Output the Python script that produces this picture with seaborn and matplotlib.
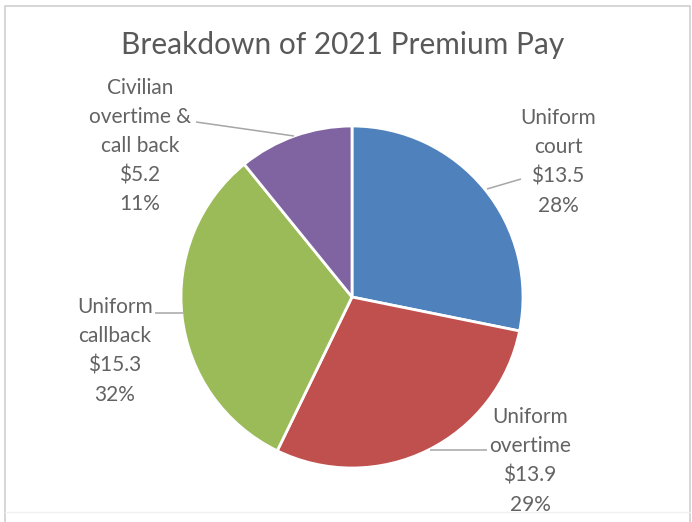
import matplotlib
matplotlib.use("Agg")
import matplotlib.pyplot as plt
import seaborn as sns

# Premium pay breakdown, $ millions
categories = ["Uniform court", "Uniform overtime", "Uniform callback",
              "Civilian overtime & call back"]
label_lines = ["Uniform\ncourt", "Uniform\novertime", "Uniform\ncallback",
               "Civilian\novertime &\ncall back"]
values = [13.5, 13.9, 15.3, 5.2]
title = "Breakdown of 2021 Premium Pay"

sns.set_theme(style="white")
plt.rcParams["font.family"] = ["Lato", "DejaVu Sans"]

colors = sns.color_palette(["#4F81BD", "#C0504D", "#9BBB59", "#8064A2"])

W, H = 692, 522
fig = plt.figure(figsize=(W / 100, H / 100), dpi=100)
ax = fig.add_axes([0, 0, 1, 1])
ax.set_xlim(0, W)
ax.set_ylim(0, H)
ax.set_aspect("equal")
ax.axis("off")

def py(y):
    # pixel row (from top) to axis y
    return H - y

cx, cy, r = 352, py(297), 171
ax.pie(values, colors=colors, startangle=90, counterclock=False,
       center=(cx, cy), radius=r, frame=True,
       wedgeprops=dict(edgecolor="white", linewidth=2))
ax.set_xlim(0, W)
ax.set_ylim(0, H)
ax.axis("off")

total = sum(values)
text_color = "#636363"
line_color = "#A6A6A6"

# label block centres (pixels) and leader lines
label_pos = [(558, 162), (530, 461), (115, 351), (140, 146)]
leaders = [((487, 189), (521, 179)),
           ((430, 450), (487, 450)),
           ((155, 313), (183, 313)),
           ((196, 122), (294, 136))]

for name, val, (lx, ly), ((x0, y0), (x1, y1)) in zip(label_lines, values,
                                                   label_pos, leaders):
    pct = round(val / total * 100)
    txt = f"{name}\n${val}\n{pct}%"
    ax.text(lx, py(ly), txt, ha="center", va="center", fontsize=15,
            color=text_color, linespacing=1.57)
    ax.plot([x0, x1], [py(y0), py(y1)], color=line_color, lw=1.1,
            solid_capstyle="butt")

ax.text(343, py(45), title, ha="center", va="center", fontsize=21.5,
        color="#595959")

# chart area border: left, top and right edges
ax.plot([5, 5, 690, 690], [0, py(6), py(6), 0], color="#CFCFCF", lw=1.2)
ax.plot([5, 690], [py(512), py(512)], color="#F0F0F0", lw=1.0)

fig.savefig("out.png", dpi=100)
